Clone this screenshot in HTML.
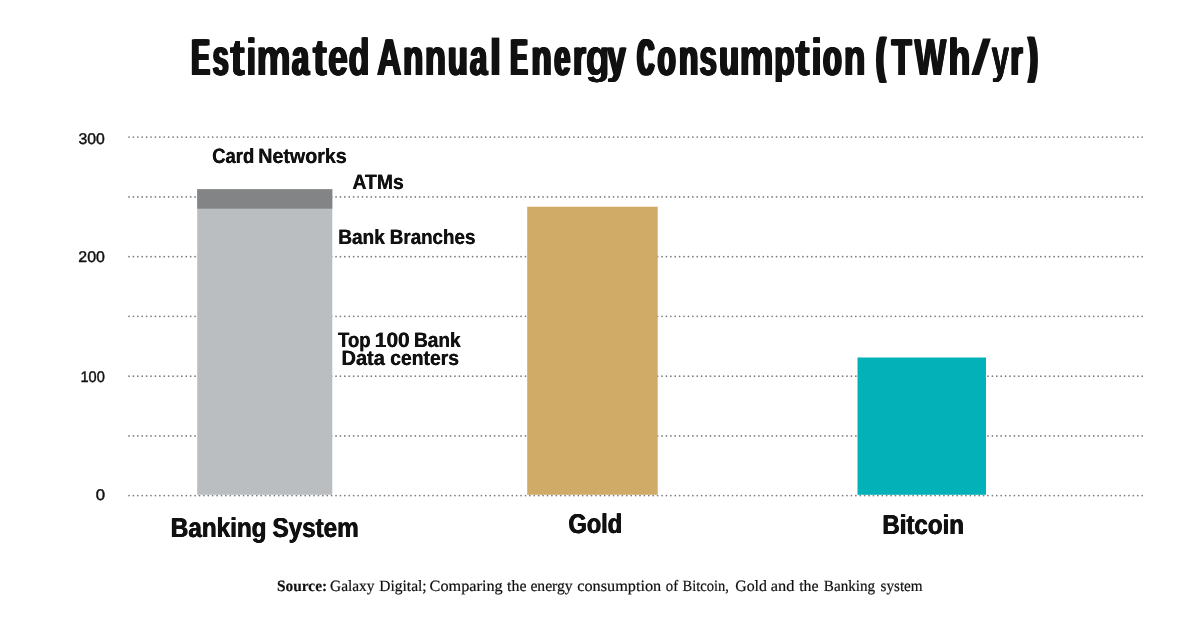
<!DOCTYPE html>
<html lang="en"><head><meta charset="utf-8"><title>Estimated Annual Energy Consumption</title>
<style>html,body{margin:0;padding:0;background:#fff;font-family:"Liberation Sans",sans-serif}svg text{font-kerning:normal}</style></head>
<body>
<svg width="1200" height="620" viewBox="0 0 1200 620" style="display:block">
<rect width="1200" height="620" fill="#ffffff"/>
<line x1="129.0" y1="137.1" x2="1143.5" y2="137.1" stroke="#7e7e7e" stroke-width="1.75" stroke-linecap="round" stroke-dasharray="0.01 4.395"/>
<line x1="129.0" y1="196.9" x2="1143.5" y2="196.9" stroke="#7e7e7e" stroke-width="1.75" stroke-linecap="round" stroke-dasharray="0.01 4.395"/>
<line x1="129.0" y1="256.7" x2="1143.5" y2="256.7" stroke="#7e7e7e" stroke-width="1.75" stroke-linecap="round" stroke-dasharray="0.01 4.395"/>
<line x1="129.0" y1="316.35" x2="1143.5" y2="316.35" stroke="#7e7e7e" stroke-width="1.75" stroke-linecap="round" stroke-dasharray="0.01 4.395"/>
<line x1="129.0" y1="376.15" x2="1143.5" y2="376.15" stroke="#7e7e7e" stroke-width="1.75" stroke-linecap="round" stroke-dasharray="0.01 4.395"/>
<line x1="129.0" y1="435.9" x2="1143.5" y2="435.9" stroke="#7e7e7e" stroke-width="1.75" stroke-linecap="round" stroke-dasharray="0.01 4.395"/>
<line x1="129.0" y1="495.6" x2="1143.5" y2="495.6" stroke="#7e7e7e" stroke-width="1.75" stroke-linecap="round" stroke-dasharray="0.01 4.395"/>
<rect x="197.2" y="189.2" width="135.10" height="305.60" fill="#BBBEC0"/>
<rect x="197.2" y="189.2" width="135.10" height="19.50" fill="#828486"/>
<rect x="527.2" y="206.7" width="130.50" height="288.10" fill="#D0AB67"/>
<rect x="857.5" y="357.5" width="128.50" height="137.30" fill="#02B2B8"/>
<g style="will-change:transform;text-rendering:geometricPrecision">
<clipPath id="ca"><rect x="0" y="0" width="1200" height="75"/></clipPath><clipPath id="cb"><rect x="0" y="75" width="1200" height="40"/></clipPath><clipPath id="tc"><rect x="0" y="0" width="1200" height="82.8"/></clipPath><g clip-path="url(#tc)">
<g transform="translate(191.50,75)"><text transform="translate(-1.44,0) scale(0.5301,1)" font-family="Liberation Sans" font-weight="bold" font-size="51.6" fill="#111111">E</text><text transform="translate(-0.72,0) scale(0.5301,1)" font-family="Liberation Sans" font-weight="bold" font-size="51.6" fill="#111111">E</text><text transform="translate(0.00,0) scale(0.5301,1)" font-family="Liberation Sans" font-weight="bold" font-size="51.6" fill="#111111">E</text><text transform="translate(0.72,0) scale(0.5301,1)" font-family="Liberation Sans" font-weight="bold" font-size="51.6" fill="#111111">E</text><text transform="translate(1.44,0) scale(0.5301,1)" font-family="Liberation Sans" font-weight="bold" font-size="51.6" fill="#111111">E</text></g>
<g transform="translate(212.75,75)"><text transform="translate(-1.20,0) scale(0.5532,1)" font-family="Liberation Sans" font-weight="bold" font-size="51.6" fill="#111111">s</text><text transform="translate(-0.60,0) scale(0.5532,1)" font-family="Liberation Sans" font-weight="bold" font-size="51.6" fill="#111111">s</text><text transform="translate(0.00,0) scale(0.5532,1)" font-family="Liberation Sans" font-weight="bold" font-size="51.6" fill="#111111">s</text><text transform="translate(0.60,0) scale(0.5532,1)" font-family="Liberation Sans" font-weight="bold" font-size="51.6" fill="#111111">s</text><text transform="translate(1.20,0) scale(0.5532,1)" font-family="Liberation Sans" font-weight="bold" font-size="51.6" fill="#111111">s</text></g>
<g transform="translate(229.75,75)"><text transform="translate(-0.31,0) scale(0.8867,1)" font-family="Liberation Sans" font-weight="bold" font-size="51.6" fill="#111111">t</text><text transform="translate(-0.16,0) scale(0.8867,1)" font-family="Liberation Sans" font-weight="bold" font-size="51.6" fill="#111111">t</text><text transform="translate(0.00,0) scale(0.8867,1)" font-family="Liberation Sans" font-weight="bold" font-size="51.6" fill="#111111">t</text><text transform="translate(0.16,0) scale(0.8867,1)" font-family="Liberation Sans" font-weight="bold" font-size="51.6" fill="#111111">t</text><text transform="translate(0.31,0) scale(0.8867,1)" font-family="Liberation Sans" font-weight="bold" font-size="51.6" fill="#111111">t</text></g>
<g transform="translate(246.75,75)"><text transform="translate(-1.11,0) scale(0.6423,1)" font-family="Liberation Sans" font-weight="bold" font-size="51.6" fill="#111111">i</text><text transform="translate(-0.55,0) scale(0.6423,1)" font-family="Liberation Sans" font-weight="bold" font-size="51.6" fill="#111111">i</text><text transform="translate(0.00,0) scale(0.6423,1)" font-family="Liberation Sans" font-weight="bold" font-size="51.6" fill="#111111">i</text><text transform="translate(0.55,0) scale(0.6423,1)" font-family="Liberation Sans" font-weight="bold" font-size="51.6" fill="#111111">i</text><text transform="translate(1.11,0) scale(0.6423,1)" font-family="Liberation Sans" font-weight="bold" font-size="51.6" fill="#111111">i</text></g>
<g transform="translate(256.55,75)"><text transform="translate(-0.76,0) scale(0.7475,1)" font-family="Liberation Sans" font-weight="bold" font-size="51.6" fill="#111111">m</text><text transform="translate(-0.38,0) scale(0.7475,1)" font-family="Liberation Sans" font-weight="bold" font-size="51.6" fill="#111111">m</text><text transform="translate(0.00,0) scale(0.7475,1)" font-family="Liberation Sans" font-weight="bold" font-size="51.6" fill="#111111">m</text><text transform="translate(0.38,0) scale(0.7475,1)" font-family="Liberation Sans" font-weight="bold" font-size="51.6" fill="#111111">m</text><text transform="translate(0.76,0) scale(0.7475,1)" font-family="Liberation Sans" font-weight="bold" font-size="51.6" fill="#111111">m</text></g>
<g transform="translate(291.95,75)"><text transform="translate(-1.18,0) scale(0.5946,1)" font-family="Liberation Sans" font-weight="bold" font-size="51.6" fill="#111111">a</text><text transform="translate(-0.59,0) scale(0.5946,1)" font-family="Liberation Sans" font-weight="bold" font-size="51.6" fill="#111111">a</text><text transform="translate(0.00,0) scale(0.5946,1)" font-family="Liberation Sans" font-weight="bold" font-size="51.6" fill="#111111">a</text><text transform="translate(0.59,0) scale(0.5946,1)" font-family="Liberation Sans" font-weight="bold" font-size="51.6" fill="#111111">a</text><text transform="translate(1.18,0) scale(0.5946,1)" font-family="Liberation Sans" font-weight="bold" font-size="51.6" fill="#111111">a</text></g>
<g transform="translate(312.50,75)"><text transform="translate(-0.46,0) scale(0.8510,1)" font-family="Liberation Sans" font-weight="bold" font-size="51.6" fill="#111111">t</text><text transform="translate(-0.23,0) scale(0.8510,1)" font-family="Liberation Sans" font-weight="bold" font-size="51.6" fill="#111111">t</text><text transform="translate(0.00,0) scale(0.8510,1)" font-family="Liberation Sans" font-weight="bold" font-size="51.6" fill="#111111">t</text><text transform="translate(0.23,0) scale(0.8510,1)" font-family="Liberation Sans" font-weight="bold" font-size="51.6" fill="#111111">t</text><text transform="translate(0.46,0) scale(0.8510,1)" font-family="Liberation Sans" font-weight="bold" font-size="51.6" fill="#111111">t</text></g>
<g transform="translate(328.20,75)"><text transform="translate(-0.89,0) scale(0.6858,1)" font-family="Liberation Sans" font-weight="bold" font-size="51.6" fill="#111111">e</text><text transform="translate(-0.44,0) scale(0.6858,1)" font-family="Liberation Sans" font-weight="bold" font-size="51.6" fill="#111111">e</text><text transform="translate(0.00,0) scale(0.6858,1)" font-family="Liberation Sans" font-weight="bold" font-size="51.6" fill="#111111">e</text><text transform="translate(0.44,0) scale(0.6858,1)" font-family="Liberation Sans" font-weight="bold" font-size="51.6" fill="#111111">e</text><text transform="translate(0.89,0) scale(0.6858,1)" font-family="Liberation Sans" font-weight="bold" font-size="51.6" fill="#111111">e</text></g>
<g transform="translate(348.70,75)"><text transform="translate(-0.91,0) scale(0.6604,1)" font-family="Liberation Sans" font-weight="bold" font-size="51.6" fill="#111111">d</text><text transform="translate(-0.45,0) scale(0.6604,1)" font-family="Liberation Sans" font-weight="bold" font-size="51.6" fill="#111111">d</text><text transform="translate(0.00,0) scale(0.6604,1)" font-family="Liberation Sans" font-weight="bold" font-size="51.6" fill="#111111">d</text><text transform="translate(0.45,0) scale(0.6604,1)" font-family="Liberation Sans" font-weight="bold" font-size="51.6" fill="#111111">d</text><text transform="translate(0.91,0) scale(0.6604,1)" font-family="Liberation Sans" font-weight="bold" font-size="51.6" fill="#111111">d</text></g>
<g transform="translate(377.25,75)"><text transform="translate(-1.09,0) scale(0.6440,1)" font-family="Liberation Sans" font-weight="bold" font-size="51.6" fill="#111111">A</text><text transform="translate(-0.54,0) scale(0.6440,1)" font-family="Liberation Sans" font-weight="bold" font-size="51.6" fill="#111111">A</text><text transform="translate(0.00,0) scale(0.6440,1)" font-family="Liberation Sans" font-weight="bold" font-size="51.6" fill="#111111">A</text><text transform="translate(0.54,0) scale(0.6440,1)" font-family="Liberation Sans" font-weight="bold" font-size="51.6" fill="#111111">A</text><text transform="translate(1.09,0) scale(0.6440,1)" font-family="Liberation Sans" font-weight="bold" font-size="51.6" fill="#111111">A</text></g>
<g transform="translate(403.20,75)"><text transform="translate(-1.13,0) scale(0.6398,1)" font-family="Liberation Sans" font-weight="bold" font-size="51.6" fill="#111111">n</text><text transform="translate(-0.56,0) scale(0.6398,1)" font-family="Liberation Sans" font-weight="bold" font-size="51.6" fill="#111111">n</text><text transform="translate(0.00,0) scale(0.6398,1)" font-family="Liberation Sans" font-weight="bold" font-size="51.6" fill="#111111">n</text><text transform="translate(0.56,0) scale(0.6398,1)" font-family="Liberation Sans" font-weight="bold" font-size="51.6" fill="#111111">n</text><text transform="translate(1.13,0) scale(0.6398,1)" font-family="Liberation Sans" font-weight="bold" font-size="51.6" fill="#111111">n</text></g>
<g transform="translate(425.05,75)"><text transform="translate(-1.06,0) scale(0.6649,1)" font-family="Liberation Sans" font-weight="bold" font-size="51.6" fill="#111111">n</text><text transform="translate(-0.53,0) scale(0.6649,1)" font-family="Liberation Sans" font-weight="bold" font-size="51.6" fill="#111111">n</text><text transform="translate(0.00,0) scale(0.6649,1)" font-family="Liberation Sans" font-weight="bold" font-size="51.6" fill="#111111">n</text><text transform="translate(0.53,0) scale(0.6649,1)" font-family="Liberation Sans" font-weight="bold" font-size="51.6" fill="#111111">n</text><text transform="translate(1.06,0) scale(0.6649,1)" font-family="Liberation Sans" font-weight="bold" font-size="51.6" fill="#111111">n</text></g>
<g transform="translate(447.95,75)"><text transform="translate(-1.18,0) scale(0.6254,1)" font-family="Liberation Sans" font-weight="bold" font-size="51.6" fill="#111111">u</text><text transform="translate(-0.59,0) scale(0.6254,1)" font-family="Liberation Sans" font-weight="bold" font-size="51.6" fill="#111111">u</text><text transform="translate(0.00,0) scale(0.6254,1)" font-family="Liberation Sans" font-weight="bold" font-size="51.6" fill="#111111">u</text><text transform="translate(0.59,0) scale(0.6254,1)" font-family="Liberation Sans" font-weight="bold" font-size="51.6" fill="#111111">u</text><text transform="translate(1.18,0) scale(0.6254,1)" font-family="Liberation Sans" font-weight="bold" font-size="51.6" fill="#111111">u</text></g>
<g transform="translate(469.95,75)"><text transform="translate(-1.14,0) scale(0.6067,1)" font-family="Liberation Sans" font-weight="bold" font-size="51.6" fill="#111111">a</text><text transform="translate(-0.57,0) scale(0.6067,1)" font-family="Liberation Sans" font-weight="bold" font-size="51.6" fill="#111111">a</text><text transform="translate(0.00,0) scale(0.6067,1)" font-family="Liberation Sans" font-weight="bold" font-size="51.6" fill="#111111">a</text><text transform="translate(0.57,0) scale(0.6067,1)" font-family="Liberation Sans" font-weight="bold" font-size="51.6" fill="#111111">a</text><text transform="translate(1.14,0) scale(0.6067,1)" font-family="Liberation Sans" font-weight="bold" font-size="51.6" fill="#111111">a</text></g>
<g transform="translate(487.70,75)"><text transform="translate(0.00,0) scale(1.0834,1)" font-family="Liberation Sans" font-weight="bold" font-size="51.6" fill="#111111">l</text></g>
<g transform="translate(510.55,75)"><text transform="translate(-1.54,0) scale(0.4966,1)" font-family="Liberation Sans" font-weight="bold" font-size="51.6" fill="#111111">E</text><text transform="translate(-0.77,0) scale(0.4966,1)" font-family="Liberation Sans" font-weight="bold" font-size="51.6" fill="#111111">E</text><text transform="translate(0.00,0) scale(0.4966,1)" font-family="Liberation Sans" font-weight="bold" font-size="51.6" fill="#111111">E</text><text transform="translate(0.77,0) scale(0.4966,1)" font-family="Liberation Sans" font-weight="bold" font-size="51.6" fill="#111111">E</text><text transform="translate(1.54,0) scale(0.4966,1)" font-family="Liberation Sans" font-weight="bold" font-size="51.6" fill="#111111">E</text></g>
<g transform="translate(531.50,75)"><text transform="translate(-1.13,0) scale(0.6398,1)" font-family="Liberation Sans" font-weight="bold" font-size="51.6" fill="#111111">n</text><text transform="translate(-0.56,0) scale(0.6398,1)" font-family="Liberation Sans" font-weight="bold" font-size="51.6" fill="#111111">n</text><text transform="translate(0.00,0) scale(0.6398,1)" font-family="Liberation Sans" font-weight="bold" font-size="51.6" fill="#111111">n</text><text transform="translate(0.56,0) scale(0.6398,1)" font-family="Liberation Sans" font-weight="bold" font-size="51.6" fill="#111111">n</text><text transform="translate(1.13,0) scale(0.6398,1)" font-family="Liberation Sans" font-weight="bold" font-size="51.6" fill="#111111">n</text></g>
<g transform="translate(554.45,75)"><text transform="translate(-1.36,0) scale(0.5517,1)" font-family="Liberation Sans" font-weight="bold" font-size="51.6" fill="#111111">e</text><text transform="translate(-0.68,0) scale(0.5517,1)" font-family="Liberation Sans" font-weight="bold" font-size="51.6" fill="#111111">e</text><text transform="translate(0.00,0) scale(0.5517,1)" font-family="Liberation Sans" font-weight="bold" font-size="51.6" fill="#111111">e</text><text transform="translate(0.68,0) scale(0.5517,1)" font-family="Liberation Sans" font-weight="bold" font-size="51.6" fill="#111111">e</text><text transform="translate(1.36,0) scale(0.5517,1)" font-family="Liberation Sans" font-weight="bold" font-size="51.6" fill="#111111">e</text></g>
<g transform="translate(573.20,75)"><text transform="translate(-1.19,0) scale(0.6223,1)" font-family="Liberation Sans" font-weight="bold" font-size="51.6" fill="#111111">r</text><text transform="translate(-0.59,0) scale(0.6223,1)" font-family="Liberation Sans" font-weight="bold" font-size="51.6" fill="#111111">r</text><text transform="translate(0.00,0) scale(0.6223,1)" font-family="Liberation Sans" font-weight="bold" font-size="51.6" fill="#111111">r</text><text transform="translate(0.59,0) scale(0.6223,1)" font-family="Liberation Sans" font-weight="bold" font-size="51.6" fill="#111111">r</text><text transform="translate(1.19,0) scale(0.6223,1)" font-family="Liberation Sans" font-weight="bold" font-size="51.6" fill="#111111">r</text></g>
<g clip-path="url(#ca)"><g transform="translate(585.70,75)"><text transform="translate(-0.57,0) scale(0.7579,1)" font-family="Liberation Sans" font-weight="bold" font-size="51.6" fill="#111111">g</text><text transform="translate(-0.29,0) scale(0.7579,1)" font-family="Liberation Sans" font-weight="bold" font-size="51.6" fill="#111111">g</text><text transform="translate(0.00,0) scale(0.7579,1)" font-family="Liberation Sans" font-weight="bold" font-size="51.6" fill="#111111">g</text><text transform="translate(0.29,0) scale(0.7579,1)" font-family="Liberation Sans" font-weight="bold" font-size="51.6" fill="#111111">g</text><text transform="translate(0.57,0) scale(0.7579,1)" font-family="Liberation Sans" font-weight="bold" font-size="51.6" fill="#111111">g</text></g></g><g transform="translate(0,75) scale(1,0.66) translate(0,-75)"><g clip-path="url(#cb)"><g transform="translate(585.70,75)"><text transform="translate(-0.57,0) scale(0.7579,1)" font-family="Liberation Sans" font-weight="bold" font-size="51.6" fill="#111111">g</text><text transform="translate(-0.29,0) scale(0.7579,1)" font-family="Liberation Sans" font-weight="bold" font-size="51.6" fill="#111111">g</text><text transform="translate(0.00,0) scale(0.7579,1)" font-family="Liberation Sans" font-weight="bold" font-size="51.6" fill="#111111">g</text><text transform="translate(0.29,0) scale(0.7579,1)" font-family="Liberation Sans" font-weight="bold" font-size="51.6" fill="#111111">g</text><text transform="translate(0.57,0) scale(0.7579,1)" font-family="Liberation Sans" font-weight="bold" font-size="51.6" fill="#111111">g</text></g></g></g>
<g clip-path="url(#ca)"><g transform="translate(607.45,75)"><text transform="translate(-1.11,0) scale(0.6373,1)" font-family="Liberation Sans" font-weight="bold" font-size="51.6" fill="#111111">y</text><text transform="translate(-0.55,0) scale(0.6373,1)" font-family="Liberation Sans" font-weight="bold" font-size="51.6" fill="#111111">y</text><text transform="translate(0.00,0) scale(0.6373,1)" font-family="Liberation Sans" font-weight="bold" font-size="51.6" fill="#111111">y</text><text transform="translate(0.55,0) scale(0.6373,1)" font-family="Liberation Sans" font-weight="bold" font-size="51.6" fill="#111111">y</text><text transform="translate(1.11,0) scale(0.6373,1)" font-family="Liberation Sans" font-weight="bold" font-size="51.6" fill="#111111">y</text></g></g><g transform="translate(0,75) scale(1,0.66) translate(0,-75)"><g clip-path="url(#cb)"><g transform="translate(607.45,75)"><text transform="translate(-1.11,0) scale(0.6373,1)" font-family="Liberation Sans" font-weight="bold" font-size="51.6" fill="#111111">y</text><text transform="translate(-0.55,0) scale(0.6373,1)" font-family="Liberation Sans" font-weight="bold" font-size="51.6" fill="#111111">y</text><text transform="translate(0.00,0) scale(0.6373,1)" font-family="Liberation Sans" font-weight="bold" font-size="51.6" fill="#111111">y</text><text transform="translate(0.55,0) scale(0.6373,1)" font-family="Liberation Sans" font-weight="bold" font-size="51.6" fill="#111111">y</text><text transform="translate(1.11,0) scale(0.6373,1)" font-family="Liberation Sans" font-weight="bold" font-size="51.6" fill="#111111">y</text></g></g></g>
<g transform="translate(637.45,75)"><text transform="translate(-1.72,0) scale(0.4447,1)" font-family="Liberation Sans" font-weight="bold" font-size="51.6" fill="#111111">C</text><text transform="translate(-0.86,0) scale(0.4447,1)" font-family="Liberation Sans" font-weight="bold" font-size="51.6" fill="#111111">C</text><text transform="translate(0.00,0) scale(0.4447,1)" font-family="Liberation Sans" font-weight="bold" font-size="51.6" fill="#111111">C</text><text transform="translate(0.86,0) scale(0.4447,1)" font-family="Liberation Sans" font-weight="bold" font-size="51.6" fill="#111111">C</text><text transform="translate(1.72,0) scale(0.4447,1)" font-family="Liberation Sans" font-weight="bold" font-size="51.6" fill="#111111">C</text></g>
<g transform="translate(657.50,75)"><text transform="translate(-1.23,0) scale(0.5815,1)" font-family="Liberation Sans" font-weight="bold" font-size="51.6" fill="#111111">o</text><text transform="translate(-0.61,0) scale(0.5815,1)" font-family="Liberation Sans" font-weight="bold" font-size="51.6" fill="#111111">o</text><text transform="translate(0.00,0) scale(0.5815,1)" font-family="Liberation Sans" font-weight="bold" font-size="51.6" fill="#111111">o</text><text transform="translate(0.61,0) scale(0.5815,1)" font-family="Liberation Sans" font-weight="bold" font-size="51.6" fill="#111111">o</text><text transform="translate(1.23,0) scale(0.5815,1)" font-family="Liberation Sans" font-weight="bold" font-size="51.6" fill="#111111">o</text></g>
<g transform="translate(678.95,75)"><text transform="translate(-1.22,0) scale(0.6132,1)" font-family="Liberation Sans" font-weight="bold" font-size="51.6" fill="#111111">n</text><text transform="translate(-0.61,0) scale(0.6132,1)" font-family="Liberation Sans" font-weight="bold" font-size="51.6" fill="#111111">n</text><text transform="translate(0.00,0) scale(0.6132,1)" font-family="Liberation Sans" font-weight="bold" font-size="51.6" fill="#111111">n</text><text transform="translate(0.61,0) scale(0.6132,1)" font-family="Liberation Sans" font-weight="bold" font-size="51.6" fill="#111111">n</text><text transform="translate(1.22,0) scale(0.6132,1)" font-family="Liberation Sans" font-weight="bold" font-size="51.6" fill="#111111">n</text></g>
<g transform="translate(699.45,75)"><text transform="translate(-1.01,0) scale(0.6087,1)" font-family="Liberation Sans" font-weight="bold" font-size="51.6" fill="#111111">s</text><text transform="translate(-0.51,0) scale(0.6087,1)" font-family="Liberation Sans" font-weight="bold" font-size="51.6" fill="#111111">s</text><text transform="translate(0.00,0) scale(0.6087,1)" font-family="Liberation Sans" font-weight="bold" font-size="51.6" fill="#111111">s</text><text transform="translate(0.51,0) scale(0.6087,1)" font-family="Liberation Sans" font-weight="bold" font-size="51.6" fill="#111111">s</text><text transform="translate(1.01,0) scale(0.6087,1)" font-family="Liberation Sans" font-weight="bold" font-size="51.6" fill="#111111">s</text></g>
<g transform="translate(719.25,75)"><text transform="translate(-1.18,0) scale(0.6273,1)" font-family="Liberation Sans" font-weight="bold" font-size="51.6" fill="#111111">u</text><text transform="translate(-0.59,0) scale(0.6273,1)" font-family="Liberation Sans" font-weight="bold" font-size="51.6" fill="#111111">u</text><text transform="translate(0.00,0) scale(0.6273,1)" font-family="Liberation Sans" font-weight="bold" font-size="51.6" fill="#111111">u</text><text transform="translate(0.59,0) scale(0.6273,1)" font-family="Liberation Sans" font-weight="bold" font-size="51.6" fill="#111111">u</text><text transform="translate(1.18,0) scale(0.6273,1)" font-family="Liberation Sans" font-weight="bold" font-size="51.6" fill="#111111">u</text></g>
<g transform="translate(739.55,75)"><text transform="translate(-0.76,0) scale(0.7450,1)" font-family="Liberation Sans" font-weight="bold" font-size="51.6" fill="#111111">m</text><text transform="translate(-0.38,0) scale(0.7450,1)" font-family="Liberation Sans" font-weight="bold" font-size="51.6" fill="#111111">m</text><text transform="translate(0.00,0) scale(0.7450,1)" font-family="Liberation Sans" font-weight="bold" font-size="51.6" fill="#111111">m</text><text transform="translate(0.38,0) scale(0.7450,1)" font-family="Liberation Sans" font-weight="bold" font-size="51.6" fill="#111111">m</text><text transform="translate(0.76,0) scale(0.7450,1)" font-family="Liberation Sans" font-weight="bold" font-size="51.6" fill="#111111">m</text></g>
<g clip-path="url(#ca)"><g transform="translate(774.05,75)"><text transform="translate(-0.90,0) scale(0.6567,1)" font-family="Liberation Sans" font-weight="bold" font-size="51.6" fill="#111111">p</text><text transform="translate(-0.45,0) scale(0.6567,1)" font-family="Liberation Sans" font-weight="bold" font-size="51.6" fill="#111111">p</text><text transform="translate(0.00,0) scale(0.6567,1)" font-family="Liberation Sans" font-weight="bold" font-size="51.6" fill="#111111">p</text><text transform="translate(0.45,0) scale(0.6567,1)" font-family="Liberation Sans" font-weight="bold" font-size="51.6" fill="#111111">p</text><text transform="translate(0.90,0) scale(0.6567,1)" font-family="Liberation Sans" font-weight="bold" font-size="51.6" fill="#111111">p</text></g></g><g transform="translate(0,75) scale(1,0.66) translate(0,-75)"><g clip-path="url(#cb)"><g transform="translate(774.05,75)"><text transform="translate(-0.90,0) scale(0.6567,1)" font-family="Liberation Sans" font-weight="bold" font-size="51.6" fill="#111111">p</text><text transform="translate(-0.45,0) scale(0.6567,1)" font-family="Liberation Sans" font-weight="bold" font-size="51.6" fill="#111111">p</text><text transform="translate(0.00,0) scale(0.6567,1)" font-family="Liberation Sans" font-weight="bold" font-size="51.6" fill="#111111">p</text><text transform="translate(0.45,0) scale(0.6567,1)" font-family="Liberation Sans" font-weight="bold" font-size="51.6" fill="#111111">p</text><text transform="translate(0.90,0) scale(0.6567,1)" font-family="Liberation Sans" font-weight="bold" font-size="51.6" fill="#111111">p</text></g></g></g>
<g transform="translate(795.30,75)"><text transform="translate(-0.45,0) scale(0.8481,1)" font-family="Liberation Sans" font-weight="bold" font-size="51.6" fill="#111111">t</text><text transform="translate(-0.23,0) scale(0.8481,1)" font-family="Liberation Sans" font-weight="bold" font-size="51.6" fill="#111111">t</text><text transform="translate(0.00,0) scale(0.8481,1)" font-family="Liberation Sans" font-weight="bold" font-size="51.6" fill="#111111">t</text><text transform="translate(0.23,0) scale(0.8481,1)" font-family="Liberation Sans" font-weight="bold" font-size="51.6" fill="#111111">t</text><text transform="translate(0.45,0) scale(0.8481,1)" font-family="Liberation Sans" font-weight="bold" font-size="51.6" fill="#111111">t</text></g>
<g transform="translate(810.75,75)"><text transform="translate(-0.58,0) scale(0.8192,1)" font-family="Liberation Sans" font-weight="bold" font-size="51.6" fill="#111111">i</text><text transform="translate(-0.29,0) scale(0.8192,1)" font-family="Liberation Sans" font-weight="bold" font-size="51.6" fill="#111111">i</text><text transform="translate(0.00,0) scale(0.8192,1)" font-family="Liberation Sans" font-weight="bold" font-size="51.6" fill="#111111">i</text><text transform="translate(0.29,0) scale(0.8192,1)" font-family="Liberation Sans" font-weight="bold" font-size="51.6" fill="#111111">i</text><text transform="translate(0.58,0) scale(0.8192,1)" font-family="Liberation Sans" font-weight="bold" font-size="51.6" fill="#111111">i</text></g>
<g transform="translate(823.00,75)"><text transform="translate(-1.17,0) scale(0.5962,1)" font-family="Liberation Sans" font-weight="bold" font-size="51.6" fill="#111111">o</text><text transform="translate(-0.58,0) scale(0.5962,1)" font-family="Liberation Sans" font-weight="bold" font-size="51.6" fill="#111111">o</text><text transform="translate(0.00,0) scale(0.5962,1)" font-family="Liberation Sans" font-weight="bold" font-size="51.6" fill="#111111">o</text><text transform="translate(0.58,0) scale(0.5962,1)" font-family="Liberation Sans" font-weight="bold" font-size="51.6" fill="#111111">o</text><text transform="translate(1.17,0) scale(0.5962,1)" font-family="Liberation Sans" font-weight="bold" font-size="51.6" fill="#111111">o</text></g>
<g transform="translate(844.05,75)"><text transform="translate(-1.05,0) scale(0.6776,1)" font-family="Liberation Sans" font-weight="bold" font-size="51.6" fill="#111111">n</text><text transform="translate(-0.52,0) scale(0.6776,1)" font-family="Liberation Sans" font-weight="bold" font-size="51.6" fill="#111111">n</text><text transform="translate(0.00,0) scale(0.6776,1)" font-family="Liberation Sans" font-weight="bold" font-size="51.6" fill="#111111">n</text><text transform="translate(0.52,0) scale(0.6776,1)" font-family="Liberation Sans" font-weight="bold" font-size="51.6" fill="#111111">n</text><text transform="translate(1.05,0) scale(0.6776,1)" font-family="Liberation Sans" font-weight="bold" font-size="51.6" fill="#111111">n</text></g>
<g transform="translate(876.80,73)"><text transform="translate(-2.12,0) scale(0.4815,0.97)" font-family="Liberation Sans" font-weight="bold" font-size="51.6" fill="#111111">(</text><text transform="translate(-1.06,0) scale(0.4815,0.97)" font-family="Liberation Sans" font-weight="bold" font-size="51.6" fill="#111111">(</text><text transform="translate(0.00,0) scale(0.4815,0.97)" font-family="Liberation Sans" font-weight="bold" font-size="51.6" fill="#111111">(</text><text transform="translate(1.06,0) scale(0.4815,0.97)" font-family="Liberation Sans" font-weight="bold" font-size="51.6" fill="#111111">(</text><text transform="translate(2.12,0) scale(0.4815,0.97)" font-family="Liberation Sans" font-weight="bold" font-size="51.6" fill="#111111">(</text></g>
<g transform="translate(891.55,75)"><text transform="translate(-1.03,0) scale(0.6425,1)" font-family="Liberation Sans" font-weight="bold" font-size="51.6" fill="#111111">T</text><text transform="translate(-0.52,0) scale(0.6425,1)" font-family="Liberation Sans" font-weight="bold" font-size="51.6" fill="#111111">T</text><text transform="translate(0.00,0) scale(0.6425,1)" font-family="Liberation Sans" font-weight="bold" font-size="51.6" fill="#111111">T</text><text transform="translate(0.52,0) scale(0.6425,1)" font-family="Liberation Sans" font-weight="bold" font-size="51.6" fill="#111111">T</text><text transform="translate(1.03,0) scale(0.6425,1)" font-family="Liberation Sans" font-weight="bold" font-size="51.6" fill="#111111">T</text></g>
<g transform="translate(914.70,75)"><text transform="translate(-0.92,0) scale(0.6453,1)" font-family="Liberation Sans" font-weight="bold" font-size="51.6" fill="#111111">W</text><text transform="translate(-0.46,0) scale(0.6453,1)" font-family="Liberation Sans" font-weight="bold" font-size="51.6" fill="#111111">W</text><text transform="translate(0.00,0) scale(0.6453,1)" font-family="Liberation Sans" font-weight="bold" font-size="51.6" fill="#111111">W</text><text transform="translate(0.46,0) scale(0.6453,1)" font-family="Liberation Sans" font-weight="bold" font-size="51.6" fill="#111111">W</text><text transform="translate(0.92,0) scale(0.6453,1)" font-family="Liberation Sans" font-weight="bold" font-size="51.6" fill="#111111">W</text></g>
<g transform="translate(948.50,75)"><text transform="translate(-0.94,0) scale(0.6935,1)" font-family="Liberation Sans" font-weight="bold" font-size="51.6" fill="#111111">h</text><text transform="translate(-0.47,0) scale(0.6935,1)" font-family="Liberation Sans" font-weight="bold" font-size="51.6" fill="#111111">h</text><text transform="translate(0.00,0) scale(0.6935,1)" font-family="Liberation Sans" font-weight="bold" font-size="51.6" fill="#111111">h</text><text transform="translate(0.47,0) scale(0.6935,1)" font-family="Liberation Sans" font-weight="bold" font-size="51.6" fill="#111111">h</text><text transform="translate(0.94,0) scale(0.6935,1)" font-family="Liberation Sans" font-weight="bold" font-size="51.6" fill="#111111">h</text></g>
<g clip-path="url(#ca)"><g transform="translate(991.70,75)"><text transform="translate(-0.37,0) scale(0.6001,1)" font-family="Liberation Sans" font-weight="bold" font-size="51.6" fill="#111111">y</text><text transform="translate(-0.18,0) scale(0.6001,1)" font-family="Liberation Sans" font-weight="bold" font-size="51.6" fill="#111111">y</text><text transform="translate(0.00,0) scale(0.6001,1)" font-family="Liberation Sans" font-weight="bold" font-size="51.6" fill="#111111">y</text><text transform="translate(0.18,0) scale(0.6001,1)" font-family="Liberation Sans" font-weight="bold" font-size="51.6" fill="#111111">y</text><text transform="translate(0.37,0) scale(0.6001,1)" font-family="Liberation Sans" font-weight="bold" font-size="51.6" fill="#111111">y</text></g></g><g transform="translate(0,75) scale(1,0.66) translate(0,-75)"><g clip-path="url(#cb)"><g transform="translate(991.70,75)"><text transform="translate(-0.37,0) scale(0.6001,1)" font-family="Liberation Sans" font-weight="bold" font-size="51.6" fill="#111111">y</text><text transform="translate(-0.18,0) scale(0.6001,1)" font-family="Liberation Sans" font-weight="bold" font-size="51.6" fill="#111111">y</text><text transform="translate(0.00,0) scale(0.6001,1)" font-family="Liberation Sans" font-weight="bold" font-size="51.6" fill="#111111">y</text><text transform="translate(0.18,0) scale(0.6001,1)" font-family="Liberation Sans" font-weight="bold" font-size="51.6" fill="#111111">y</text><text transform="translate(0.37,0) scale(0.6001,1)" font-family="Liberation Sans" font-weight="bold" font-size="51.6" fill="#111111">y</text></g></g></g>
<g transform="translate(1010.55,75)"><text transform="translate(-1.28,0) scale(0.5946,1)" font-family="Liberation Sans" font-weight="bold" font-size="51.6" fill="#111111">r</text><text transform="translate(-0.64,0) scale(0.5946,1)" font-family="Liberation Sans" font-weight="bold" font-size="51.6" fill="#111111">r</text><text transform="translate(0.00,0) scale(0.5946,1)" font-family="Liberation Sans" font-weight="bold" font-size="51.6" fill="#111111">r</text><text transform="translate(0.64,0) scale(0.5946,1)" font-family="Liberation Sans" font-weight="bold" font-size="51.6" fill="#111111">r</text><text transform="translate(1.28,0) scale(0.5946,1)" font-family="Liberation Sans" font-weight="bold" font-size="51.6" fill="#111111">r</text></g>
<g transform="translate(1028.95,73)"><text transform="translate(-2.18,0) scale(0.4574,0.97)" font-family="Liberation Sans" font-weight="bold" font-size="51.6" fill="#111111">)</text><text transform="translate(-1.09,0) scale(0.4574,0.97)" font-family="Liberation Sans" font-weight="bold" font-size="51.6" fill="#111111">)</text><text transform="translate(0.00,0) scale(0.4574,0.97)" font-family="Liberation Sans" font-weight="bold" font-size="51.6" fill="#111111">)</text><text transform="translate(1.09,0) scale(0.4574,0.97)" font-family="Liberation Sans" font-weight="bold" font-size="51.6" fill="#111111">)</text><text transform="translate(2.18,0) scale(0.4574,0.97)" font-family="Liberation Sans" font-weight="bold" font-size="51.6" fill="#111111">)</text></g>
</g>
<g transform="translate(212.30,163)"><text transform="translate(-0.22,0) scale(0.8852,1)" font-family="Liberation Sans" font-weight="bold" font-size="20.8" fill="#111111">Card</text><text transform="translate(0.22,0) scale(0.8852,1)" font-family="Liberation Sans" font-weight="bold" font-size="20.8" fill="#111111">Card</text></g>
<g transform="translate(258.20,163)"><text transform="translate(-0.22,0) scale(0.9461,1)" font-family="Liberation Sans" font-weight="bold" font-size="20.8" fill="#111111">Networks</text><text transform="translate(0.22,0) scale(0.9461,1)" font-family="Liberation Sans" font-weight="bold" font-size="20.8" fill="#111111">Networks</text></g>
<g transform="translate(352.55,189)"><text transform="translate(-0.22,0) scale(0.9281,1)" font-family="Liberation Sans" font-weight="bold" font-size="20.8" fill="#111111">ATMs</text><text transform="translate(0.22,0) scale(0.9281,1)" font-family="Liberation Sans" font-weight="bold" font-size="20.8" fill="#111111">ATMs</text></g>
<g transform="translate(338.20,244)"><text transform="translate(-0.22,0) scale(0.9176,1)" font-family="Liberation Sans" font-weight="bold" font-size="20.8" fill="#111111">Bank</text><text transform="translate(0.22,0) scale(0.9176,1)" font-family="Liberation Sans" font-weight="bold" font-size="20.8" fill="#111111">Bank</text></g>
<g transform="translate(389.80,244)"><text transform="translate(-0.22,0) scale(0.9027,1)" font-family="Liberation Sans" font-weight="bold" font-size="20.8" fill="#111111">Branches</text><text transform="translate(0.22,0) scale(0.9027,1)" font-family="Liberation Sans" font-weight="bold" font-size="20.8" fill="#111111">Branches</text></g>
<g transform="translate(338.00,347)"><text transform="translate(-0.22,0) scale(0.8889,1)" font-family="Liberation Sans" font-weight="bold" font-size="20.8" fill="#111111">Top</text><text transform="translate(0.22,0) scale(0.8889,1)" font-family="Liberation Sans" font-weight="bold" font-size="20.8" fill="#111111">Top</text></g>
<g transform="translate(374.80,347)"><text transform="translate(-0.22,0) scale(1.0061,1)" font-family="Liberation Sans" font-weight="bold" font-size="20.8" fill="#111111">100</text><text transform="translate(0.22,0) scale(1.0061,1)" font-family="Liberation Sans" font-weight="bold" font-size="20.8" fill="#111111">100</text></g>
<g transform="translate(414.00,347)"><text transform="translate(-0.22,0) scale(0.9176,1)" font-family="Liberation Sans" font-weight="bold" font-size="20.8" fill="#111111">Bank</text><text transform="translate(0.22,0) scale(0.9176,1)" font-family="Liberation Sans" font-weight="bold" font-size="20.8" fill="#111111">Bank</text></g>
<g transform="translate(341.50,365)"><text transform="translate(-0.22,0) scale(0.9605,1)" font-family="Liberation Sans" font-weight="bold" font-size="20.8" fill="#111111">Data</text><text transform="translate(0.22,0) scale(0.9605,1)" font-family="Liberation Sans" font-weight="bold" font-size="20.8" fill="#111111">Data</text></g>
<g transform="translate(390.30,365)"><text transform="translate(-0.22,0) scale(0.9278,1)" font-family="Liberation Sans" font-weight="bold" font-size="20.8" fill="#111111">centers</text><text transform="translate(0.22,0) scale(0.9278,1)" font-family="Liberation Sans" font-weight="bold" font-size="20.8" fill="#111111">centers</text></g>
<g transform="translate(170.75,537)"><text transform="translate(-0.40,0) scale(0.8897,1)" font-family="Liberation Sans" font-weight="bold" font-size="27.3" fill="#111111">Banking</text><text transform="translate(0.00,0) scale(0.8897,1)" font-family="Liberation Sans" font-weight="bold" font-size="27.3" fill="#111111">Banking</text><text transform="translate(0.40,0) scale(0.8897,1)" font-family="Liberation Sans" font-weight="bold" font-size="27.3" fill="#111111">Banking</text></g>
<g transform="translate(272.50,537)"><text transform="translate(-0.40,0) scale(0.8877,1)" font-family="Liberation Sans" font-weight="bold" font-size="27.3" fill="#111111">System</text><text transform="translate(0.00,0) scale(0.8877,1)" font-family="Liberation Sans" font-weight="bold" font-size="27.3" fill="#111111">System</text><text transform="translate(0.40,0) scale(0.8877,1)" font-family="Liberation Sans" font-weight="bold" font-size="27.3" fill="#111111">System</text></g>
<g transform="translate(568.50,533)"><text transform="translate(-0.40,0) scale(0.8625,1)" font-family="Liberation Sans" font-weight="bold" font-size="27.3" fill="#111111">Gold</text><text transform="translate(0.00,0) scale(0.8625,1)" font-family="Liberation Sans" font-weight="bold" font-size="27.3" fill="#111111">Gold</text><text transform="translate(0.40,0) scale(0.8625,1)" font-family="Liberation Sans" font-weight="bold" font-size="27.3" fill="#111111">Gold</text></g>
<g transform="translate(882.35,534)"><text transform="translate(-0.40,0) scale(0.8825,1)" font-family="Liberation Sans" font-weight="bold" font-size="27.3" fill="#111111">Bitcoin</text><text transform="translate(0.00,0) scale(0.8825,1)" font-family="Liberation Sans" font-weight="bold" font-size="27.3" fill="#111111">Bitcoin</text><text transform="translate(0.40,0) scale(0.8825,1)" font-family="Liberation Sans" font-weight="bold" font-size="27.3" fill="#111111">Bitcoin</text></g>
<g transform="translate(78.55,144)"><text transform="translate(0.00,0) scale(1.0240,1)" font-family="Liberation Sans" font-weight="normal" font-size="15.4" fill="#111111" stroke="#111111" stroke-width="0.45" stroke-linejoin="round">300</text></g>
<g transform="translate(78.30,262)"><text transform="translate(0.00,0) scale(1.0344,1)" font-family="Liberation Sans" font-weight="normal" font-size="15.4" fill="#111111" stroke="#111111" stroke-width="0.45" stroke-linejoin="round">200</text></g>
<g transform="translate(80.50,382)"><text transform="translate(0.00,0) scale(0.9485,1)" font-family="Liberation Sans" font-weight="normal" font-size="15.4" fill="#111111" stroke="#111111" stroke-width="0.45" stroke-linejoin="round">100</text></g>
<g transform="translate(95.80,500)"><text transform="translate(0.00,0) scale(1.0895,1)" font-family="Liberation Sans" font-weight="normal" font-size="15.4" fill="#111111" stroke="#111111" stroke-width="0.45" stroke-linejoin="round">0</text></g>
<g transform="translate(276.95,591)"><text transform="translate(0.00,0) scale(0.9816,1)" font-family="Liberation Serif" font-weight="bold" font-size="15.7" fill="#111111" stroke="#111111" stroke-width="0.15" stroke-linejoin="round">Source:</text></g>
<g transform="translate(330.00,591)"><text transform="translate(0.00,0) scale(0.9832,1)" font-family="Liberation Serif" font-weight="normal" font-size="15.7" fill="#111111" stroke="#111111" stroke-width="0.2" stroke-linejoin="round">Galaxy</text></g>
<g transform="translate(379.25,591)"><text transform="translate(0.00,0) scale(0.9892,1)" font-family="Liberation Serif" font-weight="normal" font-size="15.7" fill="#111111" stroke="#111111" stroke-width="0.2" stroke-linejoin="round">Digital;</text></g>
<g transform="translate(429.60,591)"><text transform="translate(0.00,0) scale(1.0350,1)" font-family="Liberation Serif" font-weight="normal" font-size="15.7" fill="#111111" stroke="#111111" stroke-width="0.2" stroke-linejoin="round">Comparing</text></g>
<g transform="translate(507.10,591)"><text transform="translate(0.00,0) scale(1.0107,1)" font-family="Liberation Serif" font-weight="normal" font-size="15.7" fill="#111111" stroke="#111111" stroke-width="0.2" stroke-linejoin="round">the</text></g>
<g transform="translate(530.40,591)"><text transform="translate(0.00,0) scale(0.9976,1)" font-family="Liberation Serif" font-weight="normal" font-size="15.7" fill="#111111" stroke="#111111" stroke-width="0.2" stroke-linejoin="round">energy</text></g>
<g transform="translate(577.20,591)"><text transform="translate(0.00,0) scale(1.0366,1)" font-family="Liberation Serif" font-weight="normal" font-size="15.7" fill="#111111" stroke="#111111" stroke-width="0.2" stroke-linejoin="round">consumption</text></g>
<g transform="translate(665.80,591)"><text transform="translate(0.00,0) scale(0.9374,1)" font-family="Liberation Serif" font-weight="normal" font-size="15.7" fill="#111111" stroke="#111111" stroke-width="0.2" stroke-linejoin="round">of</text></g>
<g transform="translate(682.55,591)"><text transform="translate(0.00,0) scale(0.9255,1)" font-family="Liberation Serif" font-weight="normal" font-size="15.7" fill="#111111" stroke="#111111" stroke-width="0.2" stroke-linejoin="round">Bitcoin,</text></g>
<g transform="translate(735.20,591)"><text transform="translate(0.00,0) scale(1.0130,1)" font-family="Liberation Serif" font-weight="normal" font-size="15.7" fill="#111111" stroke="#111111" stroke-width="0.2" stroke-linejoin="round">Gold</text></g>
<g transform="translate(770.80,591)"><text transform="translate(0.00,0) scale(1.0455,1)" font-family="Liberation Serif" font-weight="normal" font-size="15.7" fill="#111111" stroke="#111111" stroke-width="0.2" stroke-linejoin="round">and</text></g>
<g transform="translate(799.20,591)"><text transform="translate(0.00,0) scale(1.0107,1)" font-family="Liberation Serif" font-weight="normal" font-size="15.7" fill="#111111" stroke="#111111" stroke-width="0.2" stroke-linejoin="round">the</text></g>
<g transform="translate(823.85,591)"><text transform="translate(0.00,0) scale(0.9649,1)" font-family="Liberation Serif" font-weight="normal" font-size="15.7" fill="#111111" stroke="#111111" stroke-width="0.2" stroke-linejoin="round">Banking</text></g>
<g transform="translate(880.50,591)"><text transform="translate(0.00,0) scale(0.9663,1)" font-family="Liberation Serif" font-weight="normal" font-size="15.7" fill="#111111" stroke="#111111" stroke-width="0.2" stroke-linejoin="round">system</text></g>
<polygon points="971.3,75 979.2,75 990.8,38.6 982.9,38.6" fill="#111111"/>
</g>
</svg>
</body></html>
